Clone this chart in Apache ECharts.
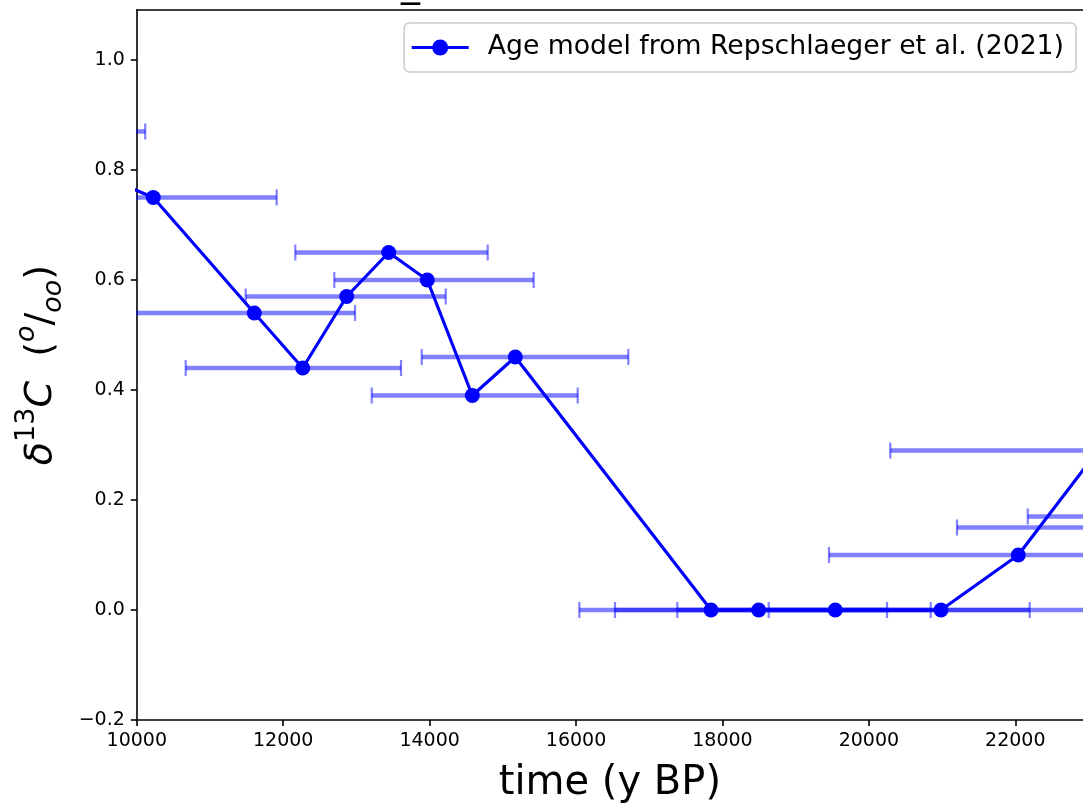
<!DOCTYPE html>
<html>
<head>
<meta charset="utf-8">
<script src="https://cdn.jsdelivr.net/npm/echarts@6/dist/echarts.min.js"></script>
<style>
html,body{margin:0;padding:0;background:#fff;}
#chart{width:1083px;height:809px;}
</style>
</head>
<body>
<div id="chart"></div>
<script>
// ---- data ----
const seriesName = 'Age model from Repschlaeger et al. (2021)';
const years = [8080, 10225, 11605, 12266, 12867, 13441, 13968, 14583, 15170, 17844, 18495, 19541, 20985, 22041, 23130];
const d13C  = [0.87, 0.75, 0.54, 0.44, 0.57, 0.65, 0.60, 0.39, 0.46, 0.0, 0.0, 0.0, 0.0, 0.10, 0.29];

// horizontal age-uncertainty bars: low end, high end, delta13C value
const errLow  = [6100, 8540, 12165, 12698, 11487, 9600, 13892, 10668, 13209, 20293, 22170, 21204, 19455, 16045, 16532, 17383, 18632];
const errHigh = [10115, 11911, 14793, 15421, 14220, 12981, 16714, 13609, 16023, 23500, 24000, 24000, 24600, 20248, 20845, 22197, 23500];
const errY    = [0.87, 0.75, 0.65, 0.60, 0.57, 0.54, 0.46, 0.44, 0.39, 0.29, 0.17, 0.15, 0.10, 0.0, 0.0, 0.0, 0.0];

const xTicks = [10000, 12000, 14000, 16000, 18000, 20000, 22000];
const yTicks = [-0.2, 0.0, 0.2, 0.4, 0.6, 0.8, 1.0];
const xRange = [10000, 22925];
const yRange = [-0.2, 1.0909];

// ---- build ----
const lineData = years.map((x, i) => [x, d13C[i]]);
const errData = errLow.map((lo, i) => [lo, errHigh[i], errY[i]]);

const FONT = 'DejaVu Sans';
const chart = echarts.init(document.getElementById('chart'), null, {renderer: 'canvas'});

const fmtNum = v => {
  const s = Math.abs(v).toFixed(1);
  return v < -1e-9 ? '\u2212' + s : s;
};

const option = {
  animation: false,
  backgroundColor: '#ffffff',
  grid: {left: 136.8, right: 0, top: 10, bottom: 89, containLabel: false},
  graphic: [{
    type: 'text', left: 401, top: -33, z: 100,
    style: {text: '_', font: '38px "DejaVu Sans"', fill: '#000'}
  }],
  legend: {
    data: [{name: seriesName}],
    right: 7, top: 23,
    orient: 'vertical',
    backgroundColor: '#ffffff',
    borderColor: '#cccccc', borderWidth: 1.5, borderRadius: 5,
    padding: [11, 12, 11, 6],
    itemWidth: 57, itemHeight: 20, itemGap: 12,
    lineStyle: {width: 3},
    textStyle: {fontFamily: FONT, fontSize: 26.7, color: '#000', padding: [0, 0, 0, 14]}
  },
  xAxis: [{
    type: 'value', min: xRange[0], max: xRange[1], interval: 2000,
    name: 'time (y BP)', nameLocation: 'middle', nameGap: 44,
    nameTextStyle: {fontFamily: FONT, fontSize: 40, color: '#000'},
    axisLine: {show: true, onZero: false, lineStyle: {color: '#000', width: 1.6}},
    axisTick: {show: true, length: 6, lineStyle: {color: '#000', width: 1.6}, customValues: xTicks},
    axisLabel: {fontFamily: FONT, fontSize: 19, color: '#000', margin: 12, customValues: xTicks,
      formatter: v => String(Math.round(v))},
    splitLine: {show: false}
  }, {
    type: 'value', position: 'top', min: xRange[0], max: xRange[1],
    axisLine: {show: true, onZero: false, lineStyle: {color: '#000', width: 1.6}},
    axisTick: {show: false}, axisLabel: {show: false}, splitLine: {show: false}
  }],
  yAxis: {
    type: 'value', min: yRange[0], max: yRange[1],
    name: '{i|δ}{sup|13}{i|C}{n|  (}{supi|o}{n|/}{subi|oo}{n|)}',
    nameLocation: 'middle', nameGap: 66,
    nameTextStyle: {
      color: '#000', fontFamily: FONT,
      rich: {
        i: {fontFamily: FONT, fontStyle: 'italic', fontSize: 38, lineHeight: 54, verticalAlign: 'middle'},
        n: {fontFamily: FONT, fontSize: 38, lineHeight: 54, verticalAlign: 'middle'},
        sup: {fontFamily: FONT, fontSize: 27, lineHeight: 54, verticalAlign: 'top'},
        supi: {fontFamily: FONT, fontStyle: 'italic', fontSize: 27, lineHeight: 54, verticalAlign: 'top'},
        subi: {fontFamily: FONT, fontStyle: 'italic', fontSize: 27, lineHeight: 54, verticalAlign: 'bottom'}
      }
    },
    axisLine: {show: true, onZero: false, lineStyle: {color: '#000', width: 1.6}},
    axisTick: {show: true, length: 6, lineStyle: {color: '#000', width: 1.6}, customValues: yTicks},
    axisLabel: {fontFamily: FONT, fontSize: 19, color: '#000', margin: 12, customValues: yTicks,
      formatter: v => fmtNum(v)},
    splitLine: {show: false}
  },
  series: [{
    type: 'custom',
    name: 'age uncertainty',
    clip: true,
    z: 1,
    data: errData,
    encode: {x: [0, 1], y: 2},
    renderItem: function (params, api) {
      const y = api.value(2);
      const p0 = api.coord([api.value(0), y]);
      const p1 = api.coord([api.value(1), y]);
      const cap = 8;
      const st = {stroke: 'rgba(0,0,255,0.5)', lineWidth: 4.5};
      const cs = {stroke: 'rgba(0,0,255,0.5)', lineWidth: 2.2};
      return {
        type: 'group',
        children: [
          {type: 'line', shape: {x1: p0[0], y1: p0[1], x2: p1[0], y2: p1[1]}, style: st},
          {type: 'line', shape: {x1: p0[0], y1: p0[1] - cap, x2: p0[0], y2: p0[1] + cap}, style: cs},
          {type: 'line', shape: {x1: p1[0], y1: p1[1] - cap, x2: p1[0], y2: p1[1] + cap}, style: cs}
        ]
      };
    }
  }, {
    type: 'line',
    name: seriesName,
    data: lineData,
    z: 3,
    clip: true,
    symbol: 'circle', symbolSize: 15, showSymbol: true,
    lineStyle: {color: '#0000ff', width: 3.2},
    itemStyle: {color: '#0000ff'}
  }]
};
chart.setOption(option);
</script>
</body>
</html>
